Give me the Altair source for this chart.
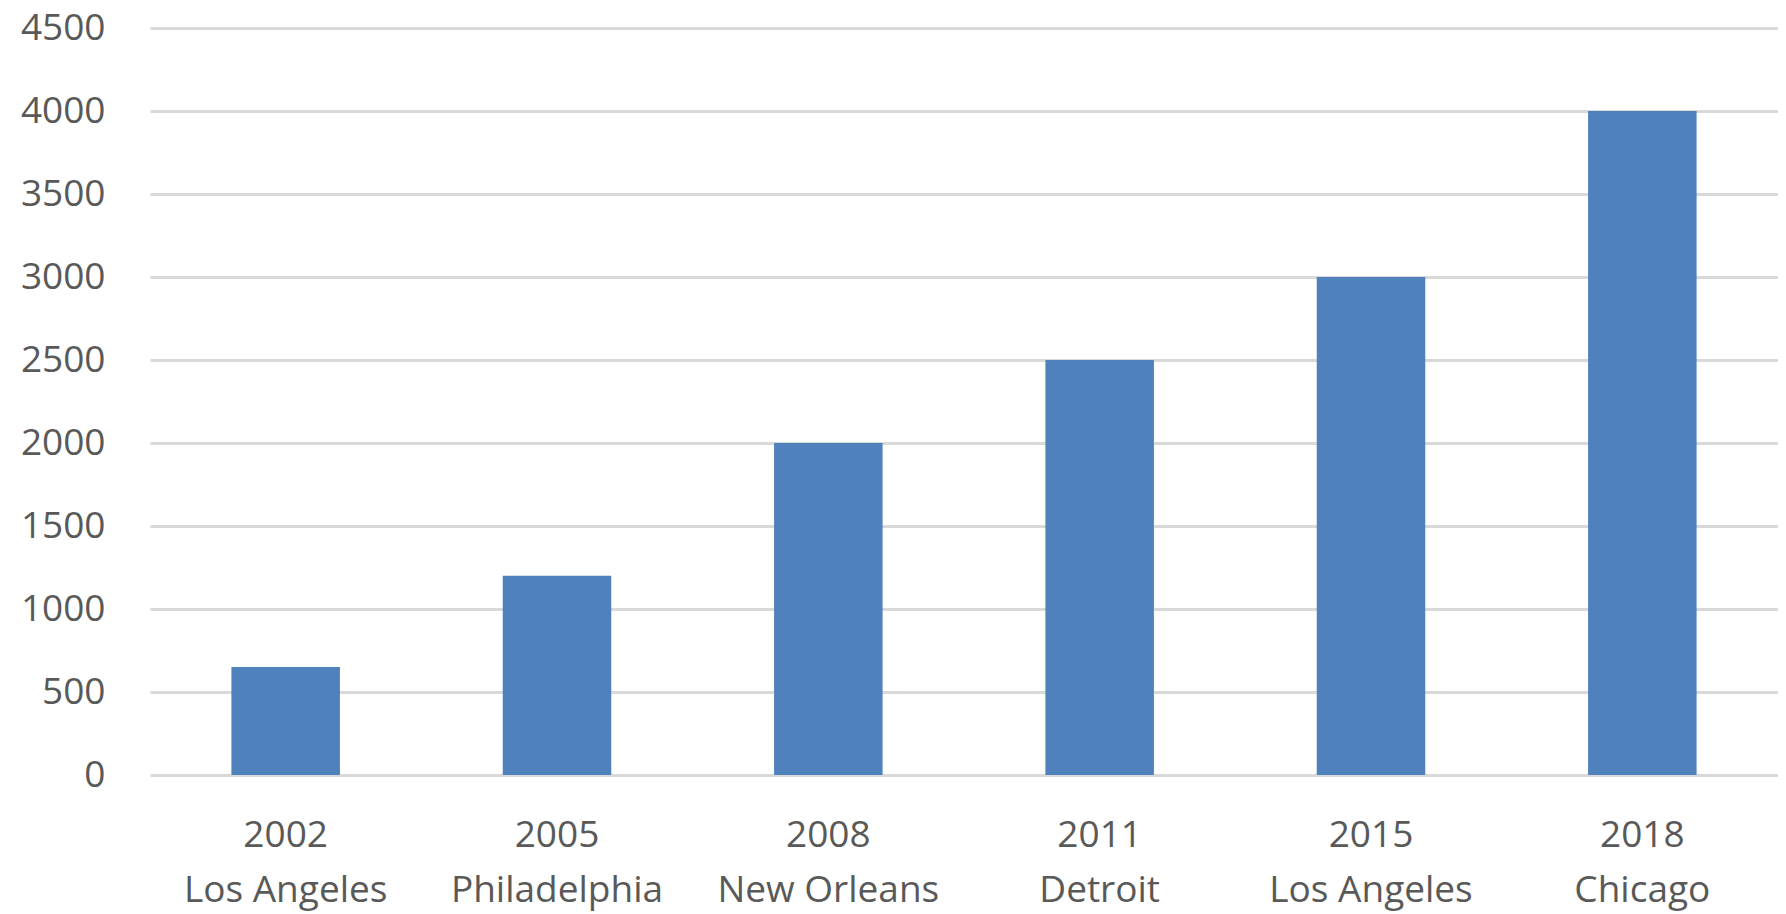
import altair as alt
import pandas as pd

years = ["2002", "2005", "2008", "2011", "2015", "2018"]
cities = ["Los Angeles", "Philadelphia", "New Orleans", "Detroit", "Los Angeles", "Chicago"]
values = [650, 1200, 2000, 2500, 3000, 4000]
y_ticks = [0, 500, 1000, 1500, 2000, 2500, 3000, 3500, 4000, 4500]

labels = [f"{y}\n{c}" for y, c in zip(years, cities)]
df = pd.DataFrame({"label": labels, "value": values})

chart = alt.Chart(df).mark_bar(color="#4F81BD").encode(
    x=alt.X(
        "label:N",
        sort=labels,
        scale=alt.Scale(paddingInner=0.6, paddingOuter=0.3),
        axis=alt.Axis(
            title=None,
            labelAngle=0,
            labelExpr="split(datum.label, '\\n')",
            labelFont="Open Sans",
            labelFontSize=37,
            labelColor="#595959",
            labelLineHeight=55,
            labelPadding=42,
            labelLimit=0,
            ticks=False,
            domain=False,
            grid=False,
        ),
    ),
    y=alt.Y(
        "value:Q",
        scale=alt.Scale(domain=[0, 4500], nice=False),
        axis=alt.Axis(
            title=None,
            values=y_ticks,
            format="d",
            labelFont="Open Sans",
            labelFontSize=37,
            labelColor="#595959",
            labelPadding=45,
            ticks=False,
            domain=False,
            grid=True,
            gridColor="#D9D9D9",
            gridWidth=3,
        ),
    ),
).properties(
    width=1628,
    height=747,
    autosize=alt.AutoSizeParams(type="none"),
    padding={"left": 142, "top": 20, "right": 0, "bottom": 138},
).configure_view(stroke=None)

chart.save("out.html", embed_options={"renderer": "svg", "actions": False})
